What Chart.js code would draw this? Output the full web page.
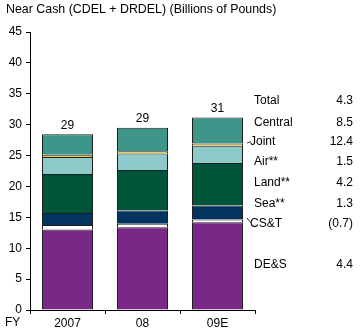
<!DOCTYPE html>
<html>
<head>
<meta charset="utf-8">
<script src="https://cdn.jsdelivr.net/npm/chart.js@4.4.1/dist/chart.umd.min.js"></script>
<style>
html,body{margin:0;padding:0;background:#fff;}
canvas{display:block;}
</style>
</head>
<body>
<canvas id="c" width="360" height="334"></canvas>
<script>
const categories = ['2007', '08', '09E'];
const desValues = [13.05, 13.4, 14.2];
const cstValues = [0.7, 0.55, 0.45];
const seaValues = [1.95, 2.15, 2.25];
const landValues = [6.3, 6.55, 6.9];
const airValues = [2.75, 2.7, 2.8];
const jointValues = [0.4, 0.35, 0.35];
const centralValues = [3.3, 3.8, 4.2];
const totalLabels = ['29', '29', '31'];
const growthNames = ['Total', 'Central', 'Joint', 'Air**', 'Land**', 'Sea**', 'CS&T', 'DE&S'];
const growthValues = ['4.3', '8.5', '12.4', '1.5', '4.2', '1.3', '(0.7)', '4.4'];
const yTicks = [0, 5, 10, 15, 20, 25, 30, 35, 40, 45];
const titleText = 'Near Cash (CDEL + DRDEL) (Billions of Pounds)';
const axisPrefix = 'FY';

const FONT = '"Liberation Sans", Arial, sans-serif';
const BORDER = '#1e1e1e';

const series = [
  {label: 'DE&S', data: desValues, color: '#792888'},
  {label: 'CS&T', data: cstValues, color: '#ffffff'},
  {label: 'Sea', data: seaValues, color: '#03345f'},
  {label: 'Land', data: landValues, color: '#00553a'},
  {label: 'Air', data: airValues, color: '#8ecaca'},
  {label: 'Joint', data: jointValues, color: '#f2c94c'},
  {label: 'Central', data: centralValues, color: '#3e958a'}
];

const annot = {
  id: 'annot',
  afterDraw(chart) {
    const ctx = chart.ctx;
    const ys = chart.scales.y;
    ctx.save();
    ctx.fillStyle = '#000';
    // title
    ctx.font = '12.4px ' + FONT;
    ctx.textAlign = 'left';
    ctx.textBaseline = 'middle';
    ctx.fillText(titleText, 6, 10);
    ctx.font = '12px ' + FONT;
    // FY
    ctx.fillText(axisPrefix, 5, 323);
    // totals above bars
    const lastMeta = chart.getDatasetMeta(series.length - 1);
    ctx.textAlign = 'center';
    categories.forEach((c, i) => {
      let tot = 0;
      series.forEach(s => tot += s.data[i]);
      const bar = lastMeta.data[i];
      ctx.fillText(totalLabels[i], bar.x, ys.getPixelForValue(tot) - 9);
    });
    // growth table
    const rowsY = [101, 122.5, 142, 162, 183, 204, 224, 265];
    const lastBar = lastMeta.data[categories.length - 1];
    const barRight = lastBar.x + lastBar.width / 2;
    growthNames.forEach((n, i) => {
      const indent = (n === 'Joint' || n === 'CS&T') ? 250 : 254;
      ctx.textAlign = 'left';
      ctx.fillText(n, indent, rowsY[i]);
      ctx.textAlign = 'right';
      ctx.fillText(growthValues[i], 353, rowsY[i]);
    });
    // leader lines
    ctx.strokeStyle = '#333';
    ctx.lineWidth = 1;
    ctx.beginPath();
    ctx.moveTo(barRight + 4, 143);
    ctx.lineTo(barRight + 8, 141.5);
    ctx.moveTo(barRight + 4, 218);
    ctx.lineTo(barRight + 9, 224);
    ctx.stroke();
    ctx.restore();
  }
};

new Chart(document.getElementById('c'), {
  type: 'bar',
  data: {
    labels: categories,
    datasets: series.map(s => ({
      label: s.label,
      data: s.data,
      backgroundColor: s.color,
      borderColor: BORDER,
      borderWidth: 1,
      barPercentage: 0.68,
      categoryPercentage: 1
    }))
  },
  options: {
    responsive: false,
    animation: false,
    devicePixelRatio: 1,
    layout: {padding: {top: 32, right: 105, left: 1, bottom: 0}},
    plugins: {legend: {display: false}, tooltip: {enabled: false}, title: {display: false}},
    scales: {
      x: {
        stacked: true,
        grid: {display: true, drawOnChartArea: false, drawTicks: true, tickLength: 4, color: '#000', offset: true},
        border: {display: true, color: '#000', width: 1},
        ticks: {color: '#000', font: {family: FONT, size: 12}, padding: 2, maxRotation: 0},
        afterFit: s => { s.height = 24; }
      },
      y: {
        stacked: true,
        min: 0,
        max: 45,
        afterBuildTicks: s => { s.ticks = yTicks.map(v => ({value: v})); },
        grid: {display: true, drawOnChartArea: false, drawTicks: true, tickLength: 4, color: '#000'},
        border: {display: true, color: '#000', width: 1},
        ticks: {color: '#000', font: {family: FONT, size: 12}, padding: 4},
        afterFit: s => { s.width = 29; }
      }
    }
  },
  plugins: [annot]
});
</script>
</body>
</html>
